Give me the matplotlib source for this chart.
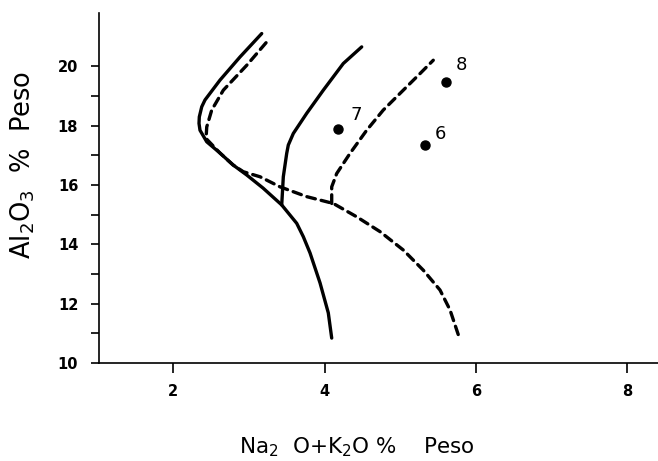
import matplotlib
matplotlib.use("Agg")
import matplotlib.pyplot as plt

# ---- data ----
solid_a_x = [3.171, 2.884, 2.620, 2.422, 2.379, 2.347, 2.343, 2.356, 2.445, 2.620, 2.792, 2.973, 3.188, 3.435, 3.633, 3.720, 3.809, 3.941, 4.050, 4.095]
solid_a_y = [21.11, 20.32, 19.54, 18.87, 18.64, 18.30, 18.08, 17.85, 17.46, 17.08, 16.68, 16.34, 15.90, 15.33, 14.71, 14.26, 13.71, 12.70, 11.69, 10.84]

solid_b_x = [3.435, 3.456, 3.501, 3.522, 3.588, 3.765, 3.984, 4.248, 4.491]
solid_b_y = [15.33, 16.28, 17.07, 17.35, 17.74, 18.42, 19.20, 20.10, 20.66]

dash_a_x = [3.228, 2.973, 2.664, 2.511, 2.445, 2.436, 2.620, 2.792, 2.928, 3.149, 3.413, 3.765, 4.116, 4.425, 4.733, 5.040, 5.304, 5.525, 5.657, 5.789]
dash_a_y = [20.80, 20.04, 19.20, 18.53, 17.96, 17.57, 17.08, 16.68, 16.45, 16.28, 15.94, 15.61, 15.38, 14.93, 14.43, 13.81, 13.13, 12.46, 11.79, 10.78]

dash_b_x = [4.095, 4.095, 4.161, 4.337, 4.557, 4.776, 5.040, 5.261, 5.436]
dash_b_y = [15.38, 15.94, 16.39, 17.07, 17.85, 18.53, 19.20, 19.76, 20.21]

sample_x = [4.182, 5.331, 5.600]
sample_y = [17.88, 17.36, 19.46]
sample_labels = ["7", "6", "8"]

x_ticks = [2, 4, 6, 8]
y_ticks_major = [10, 12, 14, 16, 18, 20]
y_ticks_minor = [11, 13, 15, 17, 19]

# ---- figure ----
fig = plt.figure(figsize=(6.58, 4.61), dpi=100)
ax = fig.add_axes([0.1505, 0.2126, 0.8495, 0.759])

lw = 2.4
ax.plot(solid_a_x, solid_a_y, color="black", lw=lw, solid_capstyle="round", solid_joinstyle="round")
ax.plot(solid_b_x, solid_b_y, color="black", lw=lw, solid_capstyle="round", solid_joinstyle="round")
ax.plot(dash_a_x, dash_a_y, color="black", lw=lw, dashes=(2.6, 1.8), dash_capstyle="round")
ax.plot(dash_b_x, dash_b_y, color="black", lw=lw, dashes=(2.6, 1.8), dash_capstyle="round")

ax.plot(sample_x, sample_y, "o", color="black", markersize=6.5, linestyle="none")
offsets = [(9, 4), (7, 1), (7, 6)]
for x, y, lab, off in zip(sample_x, sample_y, sample_labels, offsets):
    ax.annotate(lab, (x, y), xytext=off, textcoords="offset points",
                fontsize=13, ha="left", va="bottom", color="black")

ax.set_xlim(1.023, 8.403)
ax.set_ylim(10, 21.8)

for s in ["top", "right"]:
    ax.spines[s].set_visible(False)
for s in ["left", "bottom"]:
    ax.spines[s].set_linewidth(1.2)

ax.set_xticks(x_ticks)
ax.set_xticklabels([str(v) for v in x_ticks], fontweight="bold", fontsize=10.5)
ax.set_yticks(y_ticks_major)
ax.set_yticklabels([str(v) for v in y_ticks_major], fontweight="bold", fontsize=10.5)
ax.set_yticks(y_ticks_minor, minor=True)
ax.tick_params(axis="x", direction="out", length=7, width=1.2, pad=8)
ax.tick_params(axis="y", which="both", direction="out", length=6, width=1.2, pad=9)

fig.text(357 / 658, 1 - 447 / 461, r"Na$_2$  O+K$_2$O %    Peso", fontsize=15.5,
         ha="center", va="center")
fig.text(23 / 658, 1 - 165 / 461, r"Al$_2$O$_3$  %  Peso", fontsize=18.5,
         ha="center", va="center", rotation=90)

fig.savefig("out.png", dpi=100)
